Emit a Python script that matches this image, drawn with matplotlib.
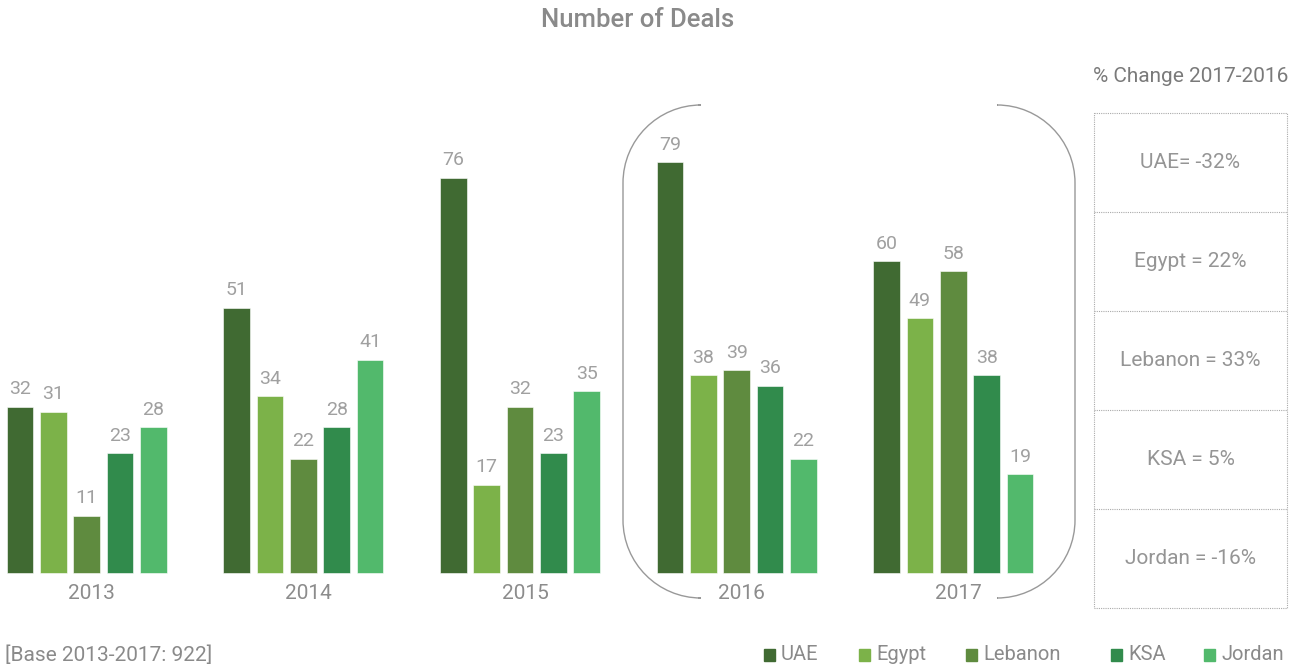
import numpy as np
import matplotlib.pyplot as plt
from matplotlib.path import Path
from matplotlib.patches import PathPatch, Rectangle
plt.rcParams.update({'font.family': ['Roboto', 'DejaVu Sans']})

years = ['2013', '2014', '2015', '2016', '2017']
countries = ['UAE', 'Egypt', 'Lebanon', 'KSA', 'Jordan']
uae = [32, 51, 76, 79, 60]
egypt = [31, 34, 17, 38, 49]
lebanon = [11, 22, 32, 39, 58]
ksa = [23, 28, 23, 36, 38]
jordan = [28, 41, 35, 22, 19]
changes = ['UAE= -32%', 'Egypt = 22%', 'Lebanon = 33%', 'KSA = 5%', 'Jordan = -16%']
colors = ['#406a32', '#7cb249', '#5f8b3f', '#318b4c', '#52b96c']
gray = '#8c8c8c'

W, H = 1303, 670
fig = plt.figure(figsize=(W/100, H/100), dpi=100)

# bars: x unit = 33.33 px, first bar centre at 20 px; baseline 97 px from bottom, 5.2 px per deal
ax = fig.add_axes([0, 0, 1, 1])
ax.set_xlim(-20/33.33, (W-20)/33.33)
ax.set_ylim(-97/5.2, (H-97)/5.2)
ax.axis('off')

series = [uae, egypt, lebanon, ksa, jordan]
gap = 6.5
for i, vals in enumerate(series):
    xs = np.arange(len(years))*gap + i
    ax.bar(xs, vals, width=0.8, color=colors[i], edgecolor='white', linewidth=0.4)
    for x, v in zip(xs, vals):
        ax.annotate(str(v), (x, v), xytext=(0, 6), textcoords='offset points',
                    ha='center', va='bottom', fontsize=14, color='#a0a0a0')
for g, yr in enumerate(years):
    ax.annotate(yr, (g*gap + 2.15, 0), xytext=(0, -8), textcoords='offset points',
                ha='center', va='top', fontsize=15, color=gray)

# overlay in pixel coords for bracket, table and notes
ov = fig.add_axes([0, 0, 1, 1])
ov.set_xlim(0, W)
ov.set_ylim(H, 0)
ov.axis('off')
ov.patch.set_alpha(0)

# rounded bracket around 2016-2017, open at top and bottom middle
x0, x1, y0, y1 = 623, 1075, 105, 598
r = 78
k = 0.448
for xe, sgn, gx in ((x0, 1, 698), (x1, -1, 998)):
    verts = [(gx, y0), (xe+sgn*r, y0), (xe+sgn*r*k, y0), (xe, y0+r*k), (xe, y0+r),
             (xe, y1-r), (xe, y1-r*k), (xe+sgn*r*k, y1), (xe+sgn*r, y1), (gx, y1)]
    codes = [Path.MOVETO, Path.LINETO, Path.CURVE4, Path.CURVE4, Path.CURVE4,
             Path.LINETO, Path.CURVE4, Path.CURVE4, Path.CURVE4, Path.LINETO]
    ov.add_patch(PathPatch(Path(verts, codes), fill=False, edgecolor='#999999', lw=1.0))

# change table
tx0, tx1, ty0, ty1 = 1094, 1287, 113, 608
rh = (ty1 - ty0)/len(changes)
ov.add_patch(Rectangle((tx0, ty0), tx1-tx0, ty1-ty0, fill=False,
                       edgecolor='#aaaaaa', lw=0.8, ls=(0, (1, 1))))
for j, txt in enumerate(changes):
    if j > 0:
        ov.plot([tx0, tx1], [ty0+j*rh]*2, color='#aaaaaa', lw=0.8, ls=(0, (1, 1)))
    ov.text((tx0+tx1)/2, ty0+(j+0.5)*rh, txt, ha='center', va='center',
            fontsize=15, color='#959595')
ov.text((tx0+tx1)/2, 77, '% Change 2017-2016', ha='center', va='center',
        fontsize=15, color='#7a7a7a')

ov.text(638, 20, 'Number of Deals', ha='center', va='center', fontsize=18.5,
        fontweight='medium', color='#8a8a8a')
ov.text(5, 655, '[Base 2013-2017: 922]', ha='left', va='center', fontsize=15,
        color='#8a8a8a')

leg_x = [764, 859, 966, 1111, 1204]
for lx, c, name in zip(leg_x, colors, countries):
    ov.add_patch(Rectangle((lx, 649), 11, 12, color=c))
    ov.text(lx+17, 655, name, ha='left', va='center', fontsize=14.5,
            color='#8a8a8a')

fig.savefig('out.png', dpi=100, facecolor='w')
